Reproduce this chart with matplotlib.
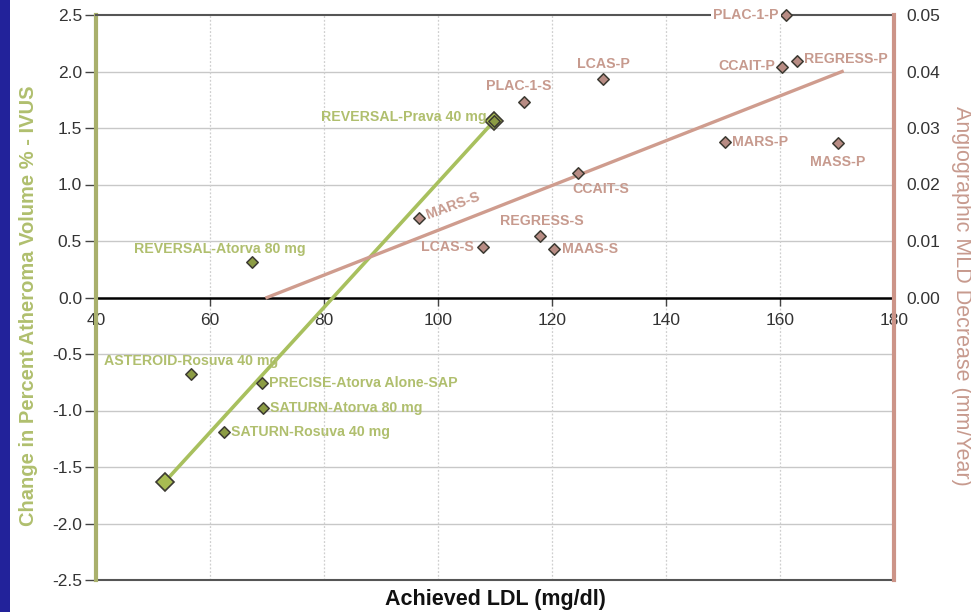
import matplotlib
matplotlib.use("Agg")
import matplotlib.pyplot as plt
from matplotlib.patches import Rectangle

plt.rcParams['font.family'] = ['Liberation Sans', 'DejaVu Sans']

# ---- data ----
ivus_labels = ["REVERSAL-Atorva 80 mg", "REVERSAL-Prava 40 mg", "ASTEROID-Rosuva 40 mg",
               "PRECISE-Atorva Alone-SAP", "SATURN-Atorva 80 mg", "SATURN-Rosuva 40 mg"]
ivus_ldl = [67.4, 109.8, 56.7, 69.1, 69.3, 62.5]
ivus_change = [0.31, 1.56, -0.68, -0.76, -0.98, -1.19]

ivus_fit_ldl = [52.1, 109.8]
ivus_fit_change = [-1.63, 1.56]

angio_labels = ["PLAC-1-P", "CCAIT-P", "REGRESS-P", "MARS-P", "MASS-P", "LCAS-P",
                "PLAC-1-S", "CCAIT-S", "MARS-S", "LCAS-S", "REGRESS-S", "MAAS-S"]
angio_ldl = [161.0, 160.4, 163.0, 150.4, 170.2, 129.0,
             115.1, 124.6, 96.7, 107.9, 117.9, 120.4]
angio_mld = [0.050, 0.0408, 0.0418, 0.0275, 0.0273, 0.0387,
             0.0346, 0.0220, 0.0140, 0.0090, 0.0108, 0.0085]

angio_fit_ldl = [70.0, 170.9]
angio_fit_mld = [0.0, 0.040]

x_ticks = [40, 60, 80, 100, 120, 140, 160, 180]
left_ticks = [2.5, 2.0, 1.5, 1.0, 0.5, 0.0, -0.5, -1.0, -1.5, -2.0, -2.5]
right_ticks = [0.00, 0.01, 0.02, 0.03, 0.04, 0.05]

# ---- label placement (style) ----
ivus_offsets = [(-23, 9.5, 'center'), (-5, 3, 'right'), (0, 9.5, 'center'),
                (5, 0, 'left'), (5, 0, 'left'), (5, 0, 'left')]
angio_offsets = [(-5, 0, 'right'), (-5, 1, 'right'), (5, 1.5, 'left'), (5, 0, 'left'),
                 (0, -13.5, 'center'), (0, 10.5, 'center'), (-3.5, 11.5, 'center'),
                 (16.5, -11.5, 'center'), (5, 2, 'left'), (-6.5, 0, 'right'),
                 (1.5, 11, 'center'), (5.5, 0, 'left')]

GREEN_TXT = '#b0bf6e'
GREEN_LINE = '#a8c05e'
GREEN_SPINE = '#a9b06c'
GREEN_MK = '#8c9c44'
GREEN_MK_BIG = '#a8bc52'
SALMON_TXT = '#c79a8e'
SALMON_LINE = '#cf9c8e'
SALMON_SPINE = '#cc9488'
SALMON_MK = '#b88c84'
EDGE = '#3c3a32'
TICK_TXT = '#333333'
ANN_FS = 10.2

fig = plt.figure(figsize=(9.71, 6.12), dpi=100)
fig.patch.set_facecolor('white')
fig.patches.append(Rectangle((0, 0), 10 / 971, 1, transform=fig.transFigure,
                             facecolor='#22229a', edgecolor='none', zorder=0))

ax = fig.add_axes([96 / 971, 32 / 612, 798 / 971, 565 / 612])
ax.set_xlim(40, 180)
ax.set_ylim(-2.5, 2.5)

# grid
for yv in left_ticks:
    if yv not in (2.5, 0.0, -2.5):
        ax.axhline(yv, color='#c8c8c8', lw=1.0, zorder=1)
for xv in x_ticks[1:-1]:
    ax.axvline(xv, color='#cfcfcf', lw=0.9, ls=(0, (1.5, 1.5)), zorder=1)

# spines
ax.spines['bottom'].set_position(('data', 0))
ax.spines['bottom'].set_color('black')
ax.spines['bottom'].set_linewidth(1.8)
ax.spines['bottom'].set_zorder(2)
ax.spines['top'].set_color('#555555')
ax.spines['top'].set_linewidth(1.5)
ax.spines['left'].set_color(GREEN_SPINE)
ax.spines['left'].set_linewidth(3)
ax.spines['right'].set_visible(False)
ax.axhline(-2.5, color='#555555', lw=1.5, clip_on=False, zorder=2)

ax.set_xticks(x_ticks)
ax.set_xticklabels([str(v) for v in x_ticks])
ax.set_yticks(left_ticks)
ax.set_yticklabels([f"{v:.1f}" for v in left_ticks])
ax.tick_params(axis='x', direction='out', length=6, width=1, color='#444444',
               labelsize=12.5, labelcolor=TICK_TXT, pad=5)
ax.tick_params(axis='y', direction='out', length=8, width=1, color='#444444',
               labelsize=12.5, labelcolor=TICK_TXT, pad=2)

# IVUS series
ax.plot(ivus_fit_ldl, ivus_fit_change, color=GREEN_LINE, lw=2.6, zorder=3,
        marker='D', ms=9, mfc=GREEN_MK_BIG, mec=EDGE, mew=1.2)
ax.scatter(ivus_ldl, ivus_change, marker='D', s=34, facecolor=GREEN_MK,
           edgecolor=EDGE, linewidth=1.1, zorder=4)
for lab, xv, yv, (dx, dy, ha) in zip(ivus_labels, ivus_ldl, ivus_change, ivus_offsets):
    ax.annotate(lab, (xv, yv), xytext=(dx, dy), textcoords='offset points',
                ha=ha, va='center', fontsize=ANN_FS, fontweight='bold',
                color=GREEN_TXT, zorder=5)

ax.set_xlabel("Achieved LDL (mg/dl)", fontsize=15.5, fontweight='bold', color='#111111')
ax.xaxis.set_label_coords(495 / 971, 2 / 612, transform=fig.transFigure)
ax.xaxis.label.set_va('bottom')
ax.set_ylabel("Change in Percent Atheroma Volume % - IVUS", fontsize=14.5,
              fontweight='bold', color=GREEN_TXT)
ax.yaxis.set_label_coords(29 / 971, 0.5, transform=fig.transFigure)
ax.yaxis.label.set_va('center')

# Angio series (right axis)
ax2 = ax.twinx()
ax2.set_ylim(-0.05, 0.05)
ax2.set_yticks(right_ticks)
ax2.set_yticklabels([f"{v:.2f}" for v in right_ticks])
ax2.tick_params(axis='y', length=0, pad=9, labelsize=12.5, labelcolor=TICK_TXT)
for s in ('top', 'bottom', 'left'):
    ax2.spines[s].set_visible(False)
ax2.spines['right'].set_color(SALMON_SPINE)
ax2.spines['right'].set_linewidth(3)

ax2.plot(angio_fit_ldl, angio_fit_mld, color=SALMON_LINE, lw=2.4, zorder=3)
ax2.scatter(angio_ldl, angio_mld, marker='D', s=34, facecolor=SALMON_MK,
            edgecolor=EDGE, linewidth=1.1, zorder=4, clip_on=False)
for lab, xv, yv, (dx, dy, ha) in zip(angio_labels, angio_ldl, angio_mld, angio_offsets):
    kw = {}
    rot = 0
    if lab == 'MARS-S':
        rot = 20
        kw['rotation_mode'] = 'anchor'
    if lab == 'PLAC-1-P':
        kw['bbox'] = dict(facecolor='white', edgecolor='none', pad=1.5)
    ax2.annotate(lab, (xv, yv), xytext=(dx, dy), textcoords='offset points',
                 ha=ha, va='center', fontsize=ANN_FS, fontweight='bold',
                 color=SALMON_TXT, rotation=rot, zorder=5, annotation_clip=False, **kw)

ax2.set_ylabel("Angiographic MLD Decrease (mm/Year)", fontsize=15.5,
               color=SALMON_TXT, rotation=270, va='center')
ax2.yaxis.set_label_coords(961 / 971, 1 - 296 / 612, transform=fig.transFigure)

fig.savefig("out.png", dpi=100, facecolor='white')
